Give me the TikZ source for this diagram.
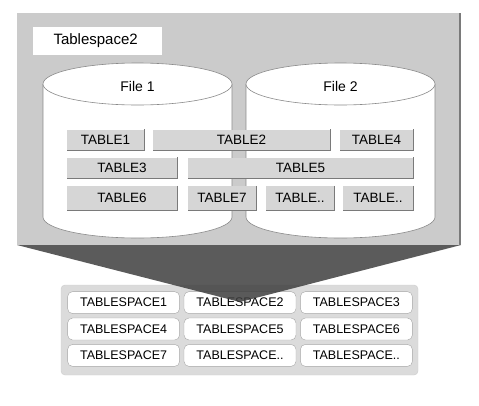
\documentclass[tikz,border=0pt]{standalone}
\usepackage{fontspec}
\setmainfont{Liberation Sans}
\usetikzlibrary{matrix}
\definecolor{panelgray}{HTML}{CBCBCB}
\definecolor{tblgray}{HTML}{D6D6D6}
\definecolor{shadegray}{HTML}{7A7A7A}
\definecolor{cylgray}{HTML}{8A8A8A}
\definecolor{funnelgray}{HTML}{3E3E3E}
\definecolor{lowgray}{HTML}{DBDBDB}

\tikzset{
    tbl/.style={fill=tblgray, inner sep=0pt, minimum height=21pt, font=\fontsize{13.5}{15}\selectfont},
    tblshade/.style={draw=shadegray, line width=1.4pt},
    cyl/.style={draw=cylgray, line width=0.6pt, fill=white},
    tscell/.style={draw=gray!70, fill=white, rounded corners=5pt, minimum width=112pt,
        minimum height=22pt, inner sep=0pt, font=\fontsize{12.5}{14}\selectfont}
}

\begin{document}
\begin{tikzpicture}[x=1pt, y=-1pt]
    \useasboundingbox (0,0) rectangle (479,405);

    % tablespace panel
    \fill[panelgray] (17,13) rectangle (461,245);
    \draw[shadegray, line width=1.5pt] (460,13) -- (460,245);
    \fill[white] (33,27) rectangle (162,55);
    \node[anchor=west, font=\fontsize{15}{17}\selectfont] (tsname) at (50,41) {Tablespace2};

    % data files
    \draw[cyl] (43,84) -- (43,217) arc[start angle=180, end angle=0, x radius=94.5, y radius=21] -- (232,84);
    \draw[cyl] (137.5,84) ellipse[x radius=94.5, y radius=21];
    \draw[cyl] (246,84) -- (246,217) arc[start angle=180, end angle=0, x radius=94.5, y radius=21] -- (435,84);
    \draw[cyl] (340.5,84) ellipse[x radius=94.5, y radius=21];
    \node[font=\fontsize{14}{16}\selectfont] (file1) at (137.5,86) {File 1};
    \node[font=\fontsize{14}{16}\selectfont] (file2) at (340.5,86) {File 2};

    % tables
    \node[tbl, minimum width=77pt] (t1) at (105.5,140) {TABLE1};
    \node[tbl, minimum width=177pt] (t2) at (241.5,140) {TABLE2};
    \node[tbl, minimum width=73pt] (t4) at (376.5,140) {TABLE4};
    \node[tbl, minimum width=110pt] (t3) at (122,168) {TABLE3};
    \node[tbl, minimum width=225pt] (t5) at (300.5,168) {TABLE5};
    \node[tbl, minimum width=110pt, minimum height=24pt] (t6) at (122,198) {TABLE6};
    \node[tbl, minimum width=68pt, minimum height=24pt] (t7) at (222,198) {TABLE7};
    \node[tbl, minimum width=68pt, minimum height=24pt] (t8) at (300,198) {TABLE..};
    \node[tbl, minimum width=70pt, minimum height=24pt] (t9) at (378,198) {TABLE..};
    \foreach \t in {t1,t2,t3,t4,t5,t6,t7,t8,t9}
        \draw[tblshade] (\t.north east) -- (\t.south east) -- (\t.south west);

    % all tablespaces
    \fill[lowgray, draw=gray!40, rounded corners=4pt] (61,285) rectangle (418,375);
    \matrix (ts) [matrix of nodes, nodes={tscell}, column sep=4pt, row sep=4pt] at (240,329)
        {
            TABLESPACE1 & TABLESPACE2 & TABLESPACE3 \\
            TABLESPACE4 & TABLESPACE5 & TABLESPACE6 \\
            TABLESPACE7 & TABLESPACE.. & TABLESPACE.. \\
        };

    % zoom funnel
    \fill[funnelgray, fill opacity=0.85] (17,245) -- (461,245) -- (240,302) -- cycle;
\end{tikzpicture}
\end{document}
